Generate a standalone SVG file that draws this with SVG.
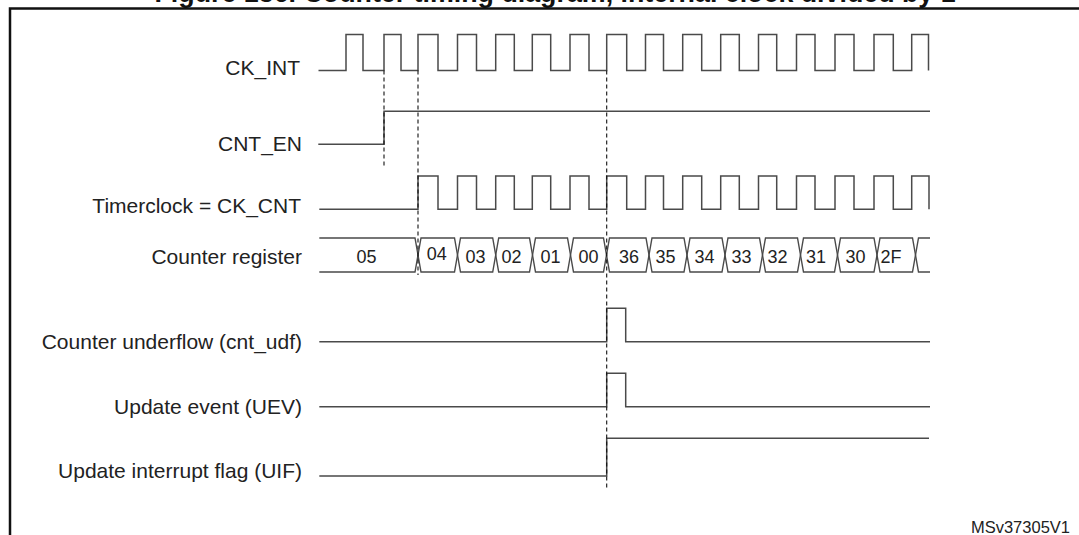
<svg xmlns="http://www.w3.org/2000/svg" width="1079" height="535" viewBox="0 0 1079 535">
<style>
.lbl{font-family:"Liberation Sans",Arial,sans-serif;font-size:21px;fill:#222;text-anchor:end}
.val{font-family:"Liberation Sans",Arial,sans-serif;font-size:18px;fill:#222;text-anchor:middle}
.sig{fill:none;stroke:#4a4a4a;stroke-width:1.5;stroke-linejoin:miter}
.bus{fill:none;stroke:#4a4a4a;stroke-width:1.4}
.dash{fill:none;stroke:#111;stroke-width:1.1;stroke-dasharray:4 3}
.title{font-family:"Liberation Sans",Arial,sans-serif;font-size:26.8px;font-weight:bold;fill:#111}
</style>
<rect x="0" y="0" width="1079" height="535" fill="#fff"/>
<text class="title" x="154.5" y="1.5">Figure 136. Counter timing diagram, internal clock divided by 1</text>
<rect id="frame" x="10" y="8.5" width="1100" height="560" fill="none" stroke="#111" stroke-width="2.5"/>

<g id="ck_int">
<text class="lbl" x="300" y="75">CK_INT</text>
<path class="sig" d="M318.5,70.6 H346 V34.4 H363 V70.6 H384 V34.4 H401 V70.6 H418 V34.4 H438 V70.6 H457.5 V34.4 H476.5 V70.6 H495.7 V34.4 H514.3 V70.6 H532.3 V34.4 H550.7 V70.6 H570 V34.4 H589 V70.6 H606.7 V34.4 H626.7 V70.6 H645.5 V34.4 H663.5 V70.6 H682.7 V34.4 H701.7 V70.6 H720.7 V34.4 H739.3 V70.6 H758.5 V34.4 H776.7 V70.6 H796.5 V34.4 H815 V70.6 H835 V34.4 H854 V70.6 H874 V34.4 H893.3 V70.6 H911.7 V34.4 H928.5 V70.6"/>
</g>

<g id="cnt_en">
<text class="lbl" x="302" y="150.5">CNT_EN</text>
<path class="sig" d="M318.3,144.3 H384 V111.2 H930"/>
</g>

<g id="ck_cnt">
<text class="lbl" x="301" y="213.3">Timerclock = CK_CNT</text>
<path class="sig" d="M319.3,209.3 H418 V176 H438 V209.3 H457.5 V176 H476.5 V209.3 H495.7 V176 H514.3 V209.3 H532.3 V176 H550.7 V209.3 H570 V176 H589 V209.3 H606.7 V176 H626.7 V209.3 H645.5 V176 H663.5 V209.3 H682.7 V176 H701.7 V209.3 H720.7 V176 H739.3 V209.3 H758.5 V176 H776.7 V209.3 H796.5 V176 H815 V209.3 H835 V176 H854 V209.3 H874 V176 H893.3 V209.3 H911.7 V176 H929 V209.3"/>
</g>

<g id="counter_register">
<text class="lbl" x="302" y="264">Counter register</text>
<path class="bus" d="M319.3,238 H415 L418,255 L415,272 H319.3"/>
<path class="bus" d="M418,255 L421,238 H454.5 L457.5,255 L454.5,272 H421 Z"/>
<path class="bus" d="M457.5,255 L460.5,238 H492.7 L495.7,255 L492.7,272 H460.5 Z"/>
<path class="bus" d="M495.7,255 L498.7,238 H529.5 L532.5,255 L529.5,272 H498.7 Z"/>
<path class="bus" d="M532.5,255 L535.5,238 H567.5 L570.5,255 L567.5,272 H535.5 Z"/>
<path class="bus" d="M570.5,255 L573.5,238 H603.5 L606.5,255 L603.5,272 H573.5 Z"/>
<path class="bus" d="M606.5,255 L609.5,238 H646 L649,255 L646,272 H609.5 Z"/>
<path class="bus" d="M649,255 L652,238 H684 L687,255 L684,272 H652 Z"/>
<path class="bus" d="M687,255 L690,238 H722 L725,255 L722,272 H690 Z"/>
<path class="bus" d="M725,255 L728,238 H759.5 L762.5,255 L759.5,272 H728 Z"/>
<path class="bus" d="M762.5,255 L765.5,238 H797.5 L800.5,255 L797.5,272 H765.5 Z"/>
<path class="bus" d="M800.5,255 L803.5,238 H834.5 L837.5,255 L834.5,272 H803.5 Z"/>
<path class="bus" d="M837.5,255 L840.5,238 H874 L877,255 L874,272 H840.5 Z"/>
<path class="bus" d="M877,255 L880,238 H912.5 L915.5,255 L912.5,272 H880 Z"/>
<path class="bus" d="M930,238 H918.5 L915.5,255 L918.5,272 H930"/>
<text class="val" x="366.5" y="263">05</text>
<text class="val" x="436.7" y="259.5">04</text>
<text class="val" x="475.5" y="263">03</text>
<text class="val" x="511.5" y="263">02</text>
<text class="val" x="550.5" y="263">01</text>
<text class="val" x="588.5" y="263">00</text>
<text class="val" x="629" y="263">36</text>
<text class="val" x="665.5" y="263">35</text>
<text class="val" x="704.5" y="263">34</text>
<text class="val" x="741.5" y="263">33</text>
<text class="val" x="777.5" y="263">32</text>
<text class="val" x="816" y="263">31</text>
<text class="val" x="855.5" y="263">30</text>
<text class="val" x="891" y="263">2F</text>
</g>

<g id="cnt_udf">
<text class="lbl" x="302" y="349.3">Counter underflow (cnt_udf)</text>
<path class="sig" d="M319.3,341.7 H606.7 V308.3 H625.7 V341.7 H930"/>
</g>

<g id="uev">
<text class="lbl" x="302" y="413.5">Update event (UEV)</text>
<path class="sig" d="M319.3,406.7 H606.7 V373.3 H625.7 V406.7 H930"/>
</g>

<g id="uif">
<text class="lbl" x="302" y="477.7">Update interrupt flag (UIF)</text>
<path class="sig" d="M319.3,476 H606.7 V438.3 H929"/>
</g>

<g id="connectors">
<line class="dash" x1="384" y1="70.6" x2="384" y2="168"/>
<line class="dash" x1="418" y1="70.6" x2="418" y2="275"/>
<line class="dash" x1="606.7" y1="70.6" x2="606.7" y2="488"/>
</g>

<text id="ref" x="1070" y="532.5" style="font-family:'Liberation Sans',Arial,sans-serif;font-size:16.5px;fill:#222;text-anchor:end">MSv37305V1</text>
</svg>
